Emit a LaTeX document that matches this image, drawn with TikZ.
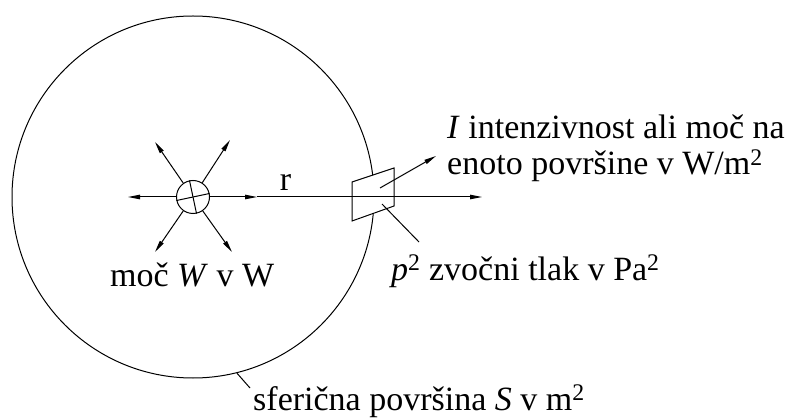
\documentclass[tikz,border=0pt]{standalone}
\usepackage{fontspec}
\setmainfont{Liberation Serif}
\usetikzlibrary{arrows.meta}
\tikzset{
  lbl/.style={inner sep=0pt, font=\fontsize{34}{36}\selectfont},
  ln/.style={line width=1pt, draw=black},
  arr/.style={ln, -{Triangle[length=12pt,width=4.5pt]}},
}
\begin{document}
\begin{tikzpicture}[x=1pt,y=-1pt]
\useasboundingbox (0,0) rectangle (791,419);
% big sphere
\node[ln, circle, minimum size=362pt, inner sep=0pt] (bc) at (193,197) {};
% source
\node[ln, circle, minimum size=33pt, inner sep=0pt, fill=white] (sc) at (193,197) {};
\draw[ln] (sc.-168) -- (sc.12);
\draw[ln] (sc.102) -- (sc.-78);
\coordinate (lt) at (128,197);
\coordinate (ul) at (155,142);
\coordinate (ur) at (230,140);
\coordinate (ll) at (155,252);
\coordinate (lr) at (232,252);
\coordinate (mid) at (257,197);
\coordinate (far) at (482,197);
\draw[arr] (sc.west) -- (lt);
\draw[arr] (sc.125) -- (ul);
\draw[arr] (sc.57) -- (ur);
\draw[arr] (sc.-125) -- (ll);
\draw[arr] (sc.-55) -- (lr);
% surface element
\coordinate (p1) at (352,182);
\coordinate (p2) at (394,168);
\coordinate (p3) at (394,206);
\coordinate (p4) at (352,221);
\draw[ln, fill=white] (p1) -- (p2) -- (p3) -- (p4) -- cycle;
\draw[arr] (sc.east) -- (mid);
\draw[arr] (mid) -- (far);
\node[lbl, anchor=base] (r) at (285.5,191) {r};
% intensity
\coordinate (ia) at (380,188);
\coordinate (ib) at (436,156);
\draw[arr] (ia) -- (ib);
\node[lbl, anchor=base west] (i1) at (447,139) {\textit{I} intenzivnost ali moč na};
\node[lbl, anchor=base west] (i2) at (447,175) {enoto površine v W/m\textsuperscript{2}};
% pressure
\coordinate (pa) at (382,204);
\coordinate (pb) at (419,242);
\draw[ln] (pa) -- (pb);
\node[lbl, anchor=base west] (pt) at (391,280) {\textit{p}\textsuperscript{2} zvočni tlak v Pa\textsuperscript{2}};
% power
\node[lbl, anchor=base west] (w) at (110,286) {moč \textit{W} v W};
% sphere surface
\coordinate (sb) at (250,388);
\draw[ln] (bc.-76.6) -- (sb);
\node[lbl, anchor=base west] (s) at (253,410) {sferična površina \textit{S} v m\textsuperscript{2}};
\end{tikzpicture}
\end{document}
